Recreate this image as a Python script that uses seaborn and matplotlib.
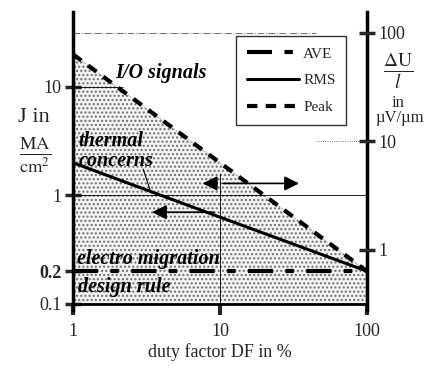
import matplotlib
matplotlib.use("Agg")
import matplotlib.pyplot as plt
import seaborn as sns
import pandas as pd

# values (log-log)
duty = [1, 10, 100]
peak = [20, 2, 0.2]
rms = [2, 0.63, 0.2]
ave = [0.2, 0.2, 0.2]
left_ticks = [0.1, 0.2, 1, 10]
left_labels = ["0.1", "0.2", "1", "10"]
right_ticks = [1, 10, 100]
right_labels = ["1", "10", "100"]
x_ticks = [1, 10, 100]
x_labels = ["1", "10", "100"]
scale_right = 3.16  # dU/l = 3.16 * J

sns.set_theme(style="white")
plt.rcParams["font.family"] = ["Liberation Serif", "DejaVu Serif"]
plt.rcParams["mathtext.fontset"] = "stix"

fig = plt.figure(figsize=(4.37, 3.68), dpi=100)
ax = fig.add_axes([0.167, 0.158, 0.673, 0.809])
ax.set_xscale("log")
ax.set_yscale("log")
ax.set_xlim(1, 100)
ax.set_ylim(0.088, 49)

df = pd.DataFrame({"DF": duty, "Peak": peak, "RMS": rms, "AVE": ave})

# speckled region under the peak line
ax.fill_between(df["DF"], 0.1, df["Peak"], facecolor="#f2f2f2",
                edgecolor="#6e6e6e", hatch="....", linewidth=0, zorder=0)
ax.plot(df["DF"], df["Peak"], color="#777777", lw=0.6, ls=":", zorder=1)

# thin guide lines
ax.axhline(1, color="black", lw=0.6, zorder=1)
ax.hlines(10, 1, 2.2, color="black", lw=0.6, zorder=1)
ax.vlines(10, 0.1, 1.6, color="black", lw=0.6, zorder=1)
ax.hlines(100 / scale_right, 1, 45, color="#555555", lw=0.6, ls=(0, (8, 2, 1, 2)), zorder=1)
ax.hlines(10 / scale_right, 45, 100, color="#555555", lw=0.6, ls=":", zorder=1)

sns.lineplot(data=df, x="DF", y="AVE", ax=ax, color="black", lw=3,
             label="AVE", zorder=3)
sns.lineplot(data=df, x="DF", y="RMS", ax=ax, color="black", lw=2.2,
             label="RMS", zorder=3)
sns.lineplot(data=df, x="DF", y="Peak", ax=ax, color="black", lw=3,
             label="Peak", zorder=3)
lines = ax.get_lines()
lines[-3].set_dashes([6, 3, 2, 3])
lines[-1].set_dashes([2.5, 2])

leg = ax.legend(loc="upper right", bbox_to_anchor=(0.955, 0.945), fontsize=11,
                frameon=True, fancybox=False, handlelength=3.4,
                borderpad=0.7, labelspacing=0.85, handletextpad=0.3)
leg.get_frame().set_edgecolor("black")
leg.get_frame().set_linewidth(1)

# bottom axis line sits at 0.1
ax.spines["bottom"].set_position(("data", 0.1))
ax.spines["top"].set_visible(False)
for s in ["left", "right", "bottom"]:
    ax.spines[s].set_color("black")
ax.spines["left"].set_linewidth(2.5)
ax.spines["right"].set_linewidth(2.5)
ax.spines["bottom"].set_linewidth(2)

ax.set_xticks(x_ticks)
ax.set_xticklabels(x_labels, fontsize=13)
ax.set_yticks(left_ticks)
ax.set_yticklabels(left_labels, fontsize=13)
ax.get_yticklabels()[1].set_fontweight("bold")
ax.minorticks_off()
ax.tick_params(axis="y", direction="inout", length=12, width=2.5, left=True, pad=2)
ax.tick_params(axis="x", direction="out", length=8, width=3, bottom=True, pad=6)
ax.set_xlabel("duty factor DF in %", fontsize=13, labelpad=2)
ax.set_ylabel("")

ax2 = ax.twinx()
ax2.set_yscale("log")
lo, hi = ax.get_ylim()
ax2.set_ylim(lo * scale_right, hi * scale_right)
ax2.set_yticks(right_ticks)
ax2.set_yticklabels(right_labels, fontsize=13)
ax2.minorticks_off()
ax2.tick_params(axis="y", direction="inout", length=12, width=2.5, right=True, pad=2)
for s in ax2.spines.values():
    s.set_visible(False)
ax2.grid(False)

# axis titles
fig.text(0.078, 0.68, "J in", fontsize=16, ha="center", va="center")
fig.text(0.08, 0.58, r"$\frac{\mathrm{MA}}{\mathrm{cm^2}}$", fontsize=19,
         ha="center", va="center")
fig.text(0.91, 0.805, r"$\frac{\Delta\mathrm{U}}{l}$", fontsize=20,
         ha="center", va="center")
fig.text(0.91, 0.72, "in", fontsize=12, ha="center", va="center")
fig.text(0.915, 0.68, "µV/µm", fontsize=12, ha="center", va="center")

# annotations
tk = dict(fontsize=14.5, fontweight="bold", style="italic", color="black", zorder=4)
ax.text(1.93, 12.1, "I/O signals", **tk)
ax.text(1.08, 2.85, "thermal", **tk)
ax.text(1.1, 1.85, "concerns", **tk)
ax.text(1.06, 0.235, "electro migration", **tk)
ax.text(1.08, 0.128, "design rule", **tk)
ax.plot([3.0, 3.4], [1.75, 1.05], color="black", lw=0.8, zorder=4)

ax.annotate("", xy=(7.3, 1.29), xytext=(10, 1.29),
            arrowprops=dict(arrowstyle="-|>", color="black", lw=1.2,
                            mutation_scale=22), zorder=5)
ax.annotate("", xy=(36, 1.29), xytext=(10, 1.29),
            arrowprops=dict(arrowstyle="-|>", color="black", lw=1.2,
                            mutation_scale=22), zorder=5)
ax.annotate("", xy=(3.3, 0.70), xytext=(9.5, 0.70),
            arrowprops=dict(arrowstyle="-|>", color="black", lw=1.2,
                            mutation_scale=22), zorder=5)

fig.savefig("out.png", dpi=100)
